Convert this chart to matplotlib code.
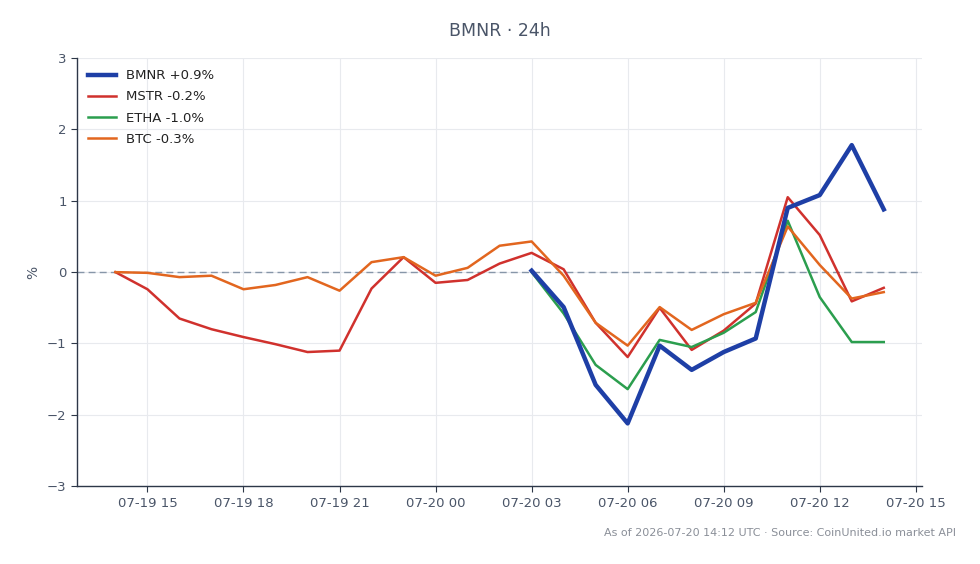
import matplotlib
matplotlib.use("Agg")
import matplotlib.pyplot as plt
import matplotlib.dates as mdates
import pandas as pd

# hourly timestamps, 2026-07-19 14:00 -> 2026-07-20 14:00 UTC
hours = pd.date_range("2026-07-19 14:00", "2026-07-20 14:00", freq="h")

mstr = [0.0, -0.24, -0.65, -0.80, -0.91, -1.01, -1.12, -1.10, -0.23, 0.21,
        -0.15, -0.11, 0.12, 0.27, 0.04, -0.71, -1.19, -0.50, -1.09, -0.82,
        -0.44, 1.05, 0.52, -0.41, -0.22]
btc = [0.0, -0.01, -0.07, -0.05, -0.24, -0.18, -0.07, -0.26, 0.14, 0.21,
       -0.05, 0.06, 0.37, 0.43, -0.05, -0.71, -1.03, -0.49, -0.81, -0.59,
       -0.43, 0.64, 0.10, -0.37, -0.28]
# BMNR / ETHA only trade from 07-20 03:00
bmnr_hours = hours[13:]
bmnr = [0.02, -0.49, -1.58, -2.12, -1.03, -1.37, -1.12, -0.93, 0.90, 1.08, 1.78, 0.88]
etha = [0.0, -0.58, -1.30, -1.64, -0.95, -1.05, -0.85, -0.56, 0.72, -0.35, -0.98, -0.98]

TXT = "#4a5568"
SPINE = "#2d3748"

fig = plt.figure(figsize=(9.8, 5.64), dpi=100)
ax = fig.add_axes([0.0786, 0.138, 0.8624, 0.759])

ax.axhline(0, color="#8796a8", lw=1.0, ls=(0, (5, 3)), zorder=1)
ax.plot(bmnr_hours, bmnr, color="#1e3fa6", lw=3.2, label="BMNR +0.9%", zorder=5)
ax.plot(hours, mstr, color="#d0312d", lw=1.8, label="MSTR -0.2%", zorder=3)
ax.plot(bmnr_hours, etha, color="#2b9e4e", lw=1.8, label="ETHA -1.0%", zorder=3)
ax.plot(hours, btc, color="#e2661f", lw=1.8, label="BTC -0.3%", zorder=4)

ax.set_ylim(-3, 3)
ax.set_yticks([-3, -2, -1, 0, 1, 2, 3])
ax.xaxis.set_major_locator(mdates.HourLocator(byhour=range(0, 24, 3)))
ax.xaxis.set_major_formatter(mdates.DateFormatter("%m-%d %H"))
ax.set_ylabel("%", color=TXT, fontsize=10, labelpad=5)

ax.grid(True, color="#e8eaee", lw=0.8)
ax.set_axisbelow(True)
for s in ("top", "right"):
    ax.spines[s].set_visible(False)
for s in ("left", "bottom"):
    ax.spines[s].set_color(SPINE)
    ax.spines[s].set_linewidth(1.0)
ax.tick_params(colors=SPINE, labelcolor=TXT, labelsize=9.5, length=4)

ax.legend(loc="upper left", frameon=False, fontsize=9.5, labelcolor="#222222",
          handlelength=2.1, handletextpad=0.75, borderaxespad=0.45,
          labelspacing=0.62)

fig.text(0.51, 0.945, "BMNR · 24h", ha="center", va="center", fontsize=12.5, color=TXT)
fig.text(0.975, 0.055, "As of 2026-07-20 14:12 UTC · Source: CoinUnited.io market API",
         ha="right", va="center", fontsize=8, color="#8a8f98")

fig.savefig("out.png", dpi=100)
